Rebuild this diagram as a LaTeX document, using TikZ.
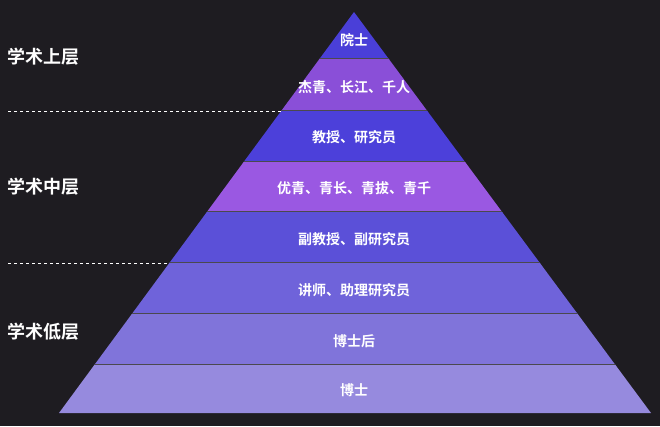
\documentclass[tikz,border=0pt]{standalone}
\usepackage{fontspec}
\setmainfont{Noto Sans CJK SC}[BoldFont={Noto Sans CJK SC Bold}]
\definecolor{bgc}{HTML}{1E1C21}
\definecolor{ca}{HTML}{4A3FD8}
\definecolor{cb}{HTML}{8A4FD8}
\definecolor{cc}{HTML}{4C40DA}
\definecolor{cd}{HTML}{9A58E2}
\definecolor{ce}{HTML}{5B50D8}
\definecolor{cf}{HTML}{6F63DA}
\definecolor{cg}{HTML}{8074DA}
\definecolor{ch}{HTML}{968ADE}
\begin{document}
\begin{tikzpicture}[x=1pt, y=-1pt,
					every node/.style = {
						text = white,
						font = \bfseries,
					},
					layertext/.style = {font = \bfseries\fontsize{14}{16}\selectfont},
					sidetext/.style = {anchor = west, font = \bfseries\fontsize{18}{20}\selectfont},
					divider/.style = {draw = white!70, dashed, line width = 0.7pt},
			]
				\fill[bgc] (0, 0) rectangle (660, 426);
				\coordinate (apex) at (354, 12);
				\coordinate (bl) at (59, 413);
				\coordinate (br) at (651, 413);

				\begin{scope}
					\clip (apex) -- (bl) -- (br) -- cycle;
					\foreach \ytop/\ybot/\col in {0/59/ca, 59/111/cb, 111/162/cc, 162/212/cd,
							212/263/ce, 263/314/cf, 314/365/cg, 365/420/ch} {
						\fill[\col] (0, \ytop) rectangle (660, \ybot);
						\draw[bgc!80, line width = 1.5pt] (0, \ybot) -- (660, \ybot);
					}
				\end{scope}

				\node (l1) [layertext] at (354, 40) {院士};
				\node (l2) [layertext] at (354, 87) {杰青、长江、千人};
				\node (l3) [layertext] at (354, 137) {教授、研究员};
				\node (l4) [layertext] at (354, 188) {优青、青长、青拔、青千};
				\node (l5) [layertext] at (354, 239) {副教授、副研究员};
				\node (l6) [layertext] at (354, 290) {讲师、助理研究员};
				\node (l7) [layertext] at (354, 341) {博士后};
				\node (l8) [layertext] at (354, 390) {博士};

				\node (upper) [sidetext] at (4, 57) {学术上层};
				\node (middle) [sidetext] at (4, 187) {学术中层};
				\node (lower) [sidetext] at (4, 332) {学术低层};

				\coordinate (d1) at (281, 111);
				\coordinate (d2) at (169, 263);
				\draw[divider] (8, 111) -- (d1);
				\draw[divider] (8, 263) -- (d2);
			\end{tikzpicture}
\end{document}
